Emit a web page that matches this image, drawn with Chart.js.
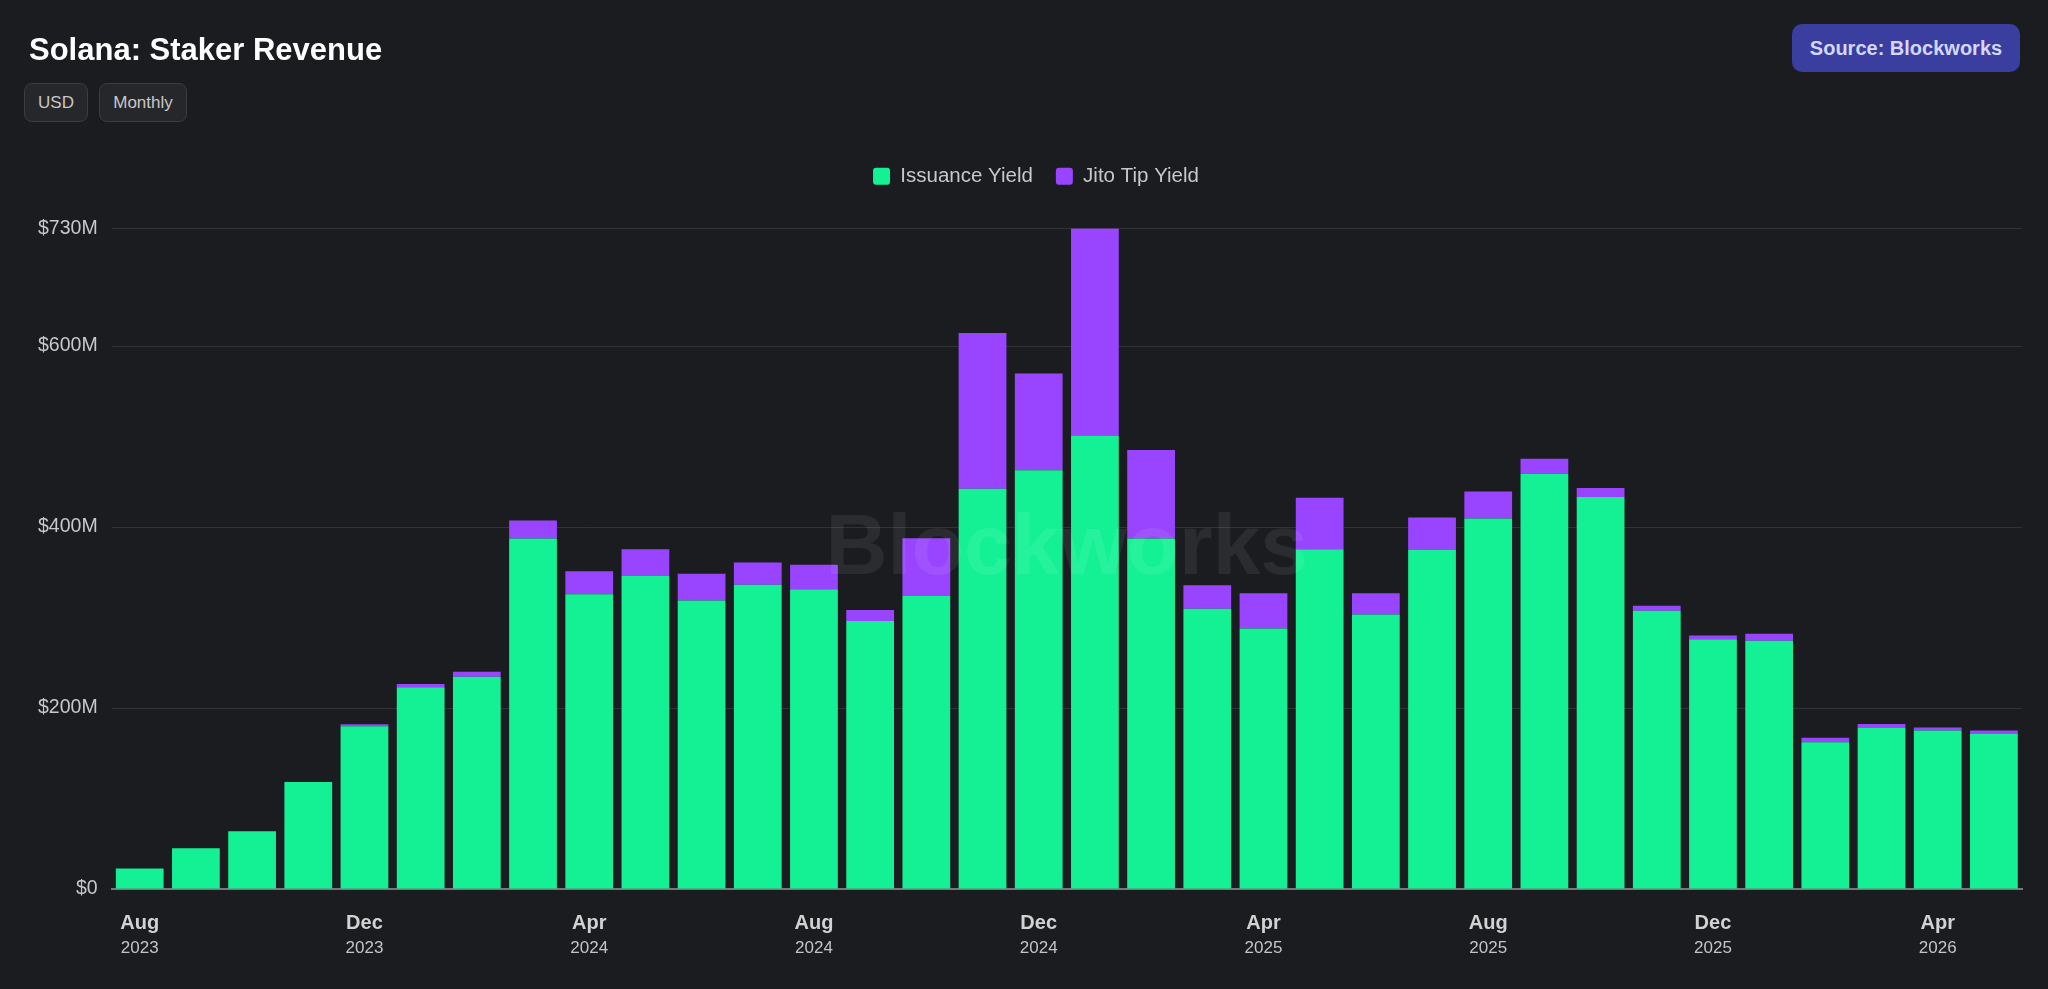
<!DOCTYPE html>
<html>
<head>
<meta charset="utf-8">
<title>Solana: Staker Revenue</title>
<script src="https://cdn.jsdelivr.net/npm/chart.js@4.4.1/dist/chart.umd.min.js"></script>
<style>
    html, body {
        margin: 0;
        padding: 0;
        background: #1b1c20;
        width: 2048px;
        height: 989px;
        overflow: hidden;
        font-family: "Liberation Sans", Arial, sans-serif;
    }
    #wrap {
        position: absolute;
        left: 0;
        top: 0;
        width: 2048px;
        height: 989px;
    }
    .title {
        position: absolute;
        left: 29px;
        top: 32px;
        margin: 0;
        font-size: 31px;
        font-weight: bold;
        color: #ffffff;
        z-index: 2;
    }
    .pill {
        position: absolute;
        top: 83px;
        height: 39px;
        box-sizing: border-box;
        border: 1px solid #3c3d42;
        border-radius: 8px;
        background: #26272b;
        color: #c8c8c8;
        font-size: 17px;
        line-height: 37px;
        text-align: center;
        z-index: 2;
    }
    .source {
        position: absolute;
        left: 1792px;
        top: 24px;
        width: 228px;
        height: 48px;
        border-radius: 10px;
        background: #3a3e9f;
        color: #d4d7ff;
        font-size: 20px;
        font-weight: bold;
        line-height: 48px;
        text-align: center;
        z-index: 2;
    }
</style>
</head>
<body>
<div class="title">Solana: Staker Revenue</div>
<div class="pill" style="left:24px;width:64px;">USD</div>
<div class="pill" style="left:99px;width:88px;">Monthly</div>
<div class="source">Source: Blockworks</div>
<div id="wrap"><canvas id="chart"></canvas></div>

<script>
// monthly values, $M
const months = ['Aug', 'Sep', 'Oct', 'Nov', 'Dec', 'Jan', 'Feb', 'Mar', 'Apr', 'May', 'Jun', 'Jul',
    'Aug', 'Sep', 'Oct', 'Nov', 'Dec', 'Jan', 'Feb', 'Mar', 'Apr', 'May', 'Jun', 'Jul',
    'Aug', 'Sep', 'Oct', 'Nov', 'Dec', 'Jan', 'Feb', 'Mar', 'Apr', 'May'];
const years = ['2023', '2023', '2023', '2023', '2023', '2024', '2024', '2024', '2024', '2024', '2024', '2024',
    '2024', '2024', '2024', '2024', '2024', '2025', '2025', '2025', '2025', '2025', '2025', '2025',
    '2025', '2025', '2025', '2025', '2025', '2026', '2026', '2026', '2026', '2026'];

const issuanceYield = [22.6, 45, 63.8, 118.2, 180, 223, 234.7, 387.3, 325.9, 345.8, 318.9, 336.2,
    331.4, 296.1, 323.7, 442.5, 462.7, 501.3, 387.3, 309.7, 288, 375.5, 303.5, 374.8,
    409.4, 459, 433.2, 307.5, 275.9, 274.4, 162.3, 178.5, 175.1, 171.8];
const jitoTipYield = [0, 0, 0, 0, 2, 3.5, 5.5, 20, 25.4, 29.7, 29.4, 24.7,
    26.9, 12.2, 64, 172, 107, 229, 97.8, 26.1, 39, 57, 23.5, 35.7,
    29.8, 16.5, 10, 5.5, 4.4, 7.7, 4.8, 4, 3.4, 3.3];

const yTicks = [0, 200, 400, 600, 730];

const labels = months.map((m, i) => m + ' ' + years[i]);
const FONT = '"Liberation Sans", Arial, sans-serif';

const watermark = {
    id: 'watermark',
    afterDatasetsDraw(chart) {
        const {ctx, chartArea} = chart;
        ctx.save();
        ctx.font = 'bold 86px ' + FONT;
        ctx.fillStyle = 'rgba(255, 255, 255, 0.07)';
        ctx.textAlign = 'center';
        ctx.textBaseline = 'middle';
        ctx.fillText('Blockworks', (chartArea.left + chartArea.right) / 2, (chartArea.top + chartArea.bottom) / 2 - 8);
        ctx.restore();
    },
};

// leave some room between the legend and the plot, nudge it right a bit
const legendGap = {
    id: 'legendGap',
    beforeInit(chart) {
        const fit = chart.legend.fit;
        chart.legend.fit = function () {
            fit.bind(chart.legend)();
            this.height += 32;
        };
    },
    afterLayout(chart) {
        chart.legend.left += 13;
        chart.legend.right += 13;
    },
};

new Chart(document.getElementById('chart'), {
    type: 'bar',
    data: {
        labels: labels,
        datasets: [{
            label: 'Issuance Yield',
            data: issuanceYield,
            backgroundColor: '#14f195',
            borderWidth: 0,
            barPercentage: 0.85,
            categoryPercentage: 1,
        }, {
            label: 'Jito Tip Yield',
            data: jitoTipYield,
            backgroundColor: '#9945ff',
            borderWidth: 0,
            barPercentage: 0.85,
            categoryPercentage: 1,
        }],
    },
    options: {
        responsive: true,
        maintainAspectRatio: false,
        animation: false,
        layout: {
            padding: { top: 143, left: 24, right: 26, bottom: 31 },
        },
        plugins: {
            legend: {
                position: 'top',
                labels: {
                    color: '#c8c8c8',
                    font: { family: FONT, size: 20.5 },
                    boxWidth: 17,
                    boxHeight: 17,
                    useBorderRadius: true,
                    borderRadius: 3,
                    padding: 23,
                },
            },
            tooltip: { enabled: false },
        },
        scales: {
            x: {
                stacked: true,
                offset: true,
                grid: { display: false, drawTicks: false },
                border: { color: '#77787c', width: 2 },
                ticks: {
                    autoSkip: false,
                    maxRotation: 0,
                    padding: 22.5,
                    color: '#d2d2d2',
                    font: { family: FONT, size: 20, weight: 'bold' },
                    callback: (v, i) => (i % 4 === 0 ? months[i] : ''),
                },
            },
            x2: {
                type: 'category',
                position: 'bottom',
                labels: labels,
                offset: true,
                grid: { display: false, drawTicks: false },
                border: { display: false },
                ticks: {
                    autoSkip: false,
                    maxRotation: 0,
                    padding: -20,
                    color: '#c4c4c4',
                    font: { family: FONT, size: 17 },
                    callback: (v, i) => (i % 4 === 0 ? years[i] : ''),
                },
            },
            y: {
                stacked: true,
                min: 0,
                max: 730,
                afterBuildTicks: (axis) => {
                    axis.ticks = yTicks.map(v => ({ value: v }));
                },
                grid: { color: 'rgba(255, 255, 255, 0.1)', drawTicks: false },
                border: { display: false },
                ticks: {
                    padding: 14,
                    color: '#c8c8c8',
                    font: { family: FONT, size: 19.5 },
                    callback: (v) => (v === 0 ? '$0' : '$' + v + 'M'),
                },
            },
        },
    },
    plugins: [watermark, legendGap],
});
</script>
</body>
</html>
